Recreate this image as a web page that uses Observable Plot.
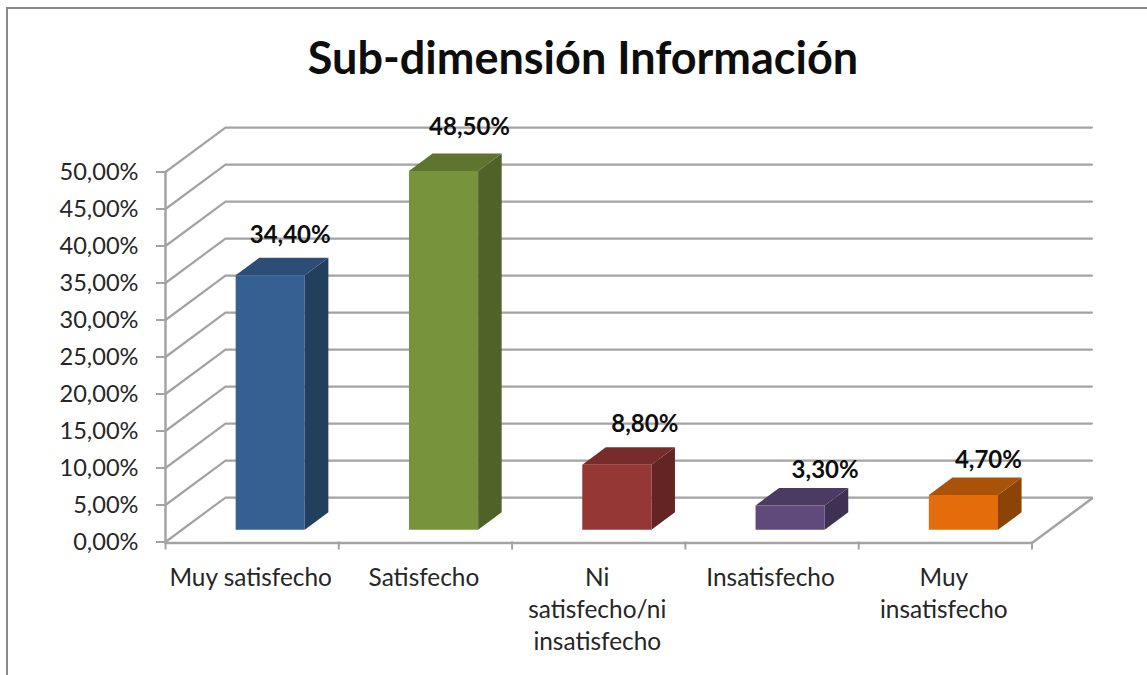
<!DOCTYPE html>
<html lang="es">
<head>
<meta charset="utf-8">
<script src="https://cdn.jsdelivr.net/npm/d3@7"></script>
<script src="https://cdn.jsdelivr.net/npm/@observablehq/plot@0.6"></script>
<style>
html,body{margin:0;padding:0;background:#fff;overflow:hidden}
#chart{position:relative;width:1147px;height:675px}
#frame{position:absolute;left:6px;top:7px;right:0;bottom:0;border-left:2px solid #8a8a8a;border-top:2px solid #8a8a8a}
#chart svg{position:absolute;left:0;top:0}
</style>
</head>
<body>
<div id="chart"><div id="frame"></div></div>
<script>
const title = "Sub-dimensión Información";
const categories = ["Muy satisfecho", "Satisfecho", "Ni\nsatisfecho/ni\ninsatisfecho", "Insatisfecho", "Muy\ninsatisfecho"];
const values = [34.4, 48.5, 8.8, 3.3, 4.7];
const valueLabels = ["34,40%", "48,50%", "8,80%", "3,30%", "4,70%"];
const yTicks = [0, 5, 10, 15, 20, 25, 30, 35, 40, 45, 50];
const frontColors = ["#376092", "#77933c", "#953735", "#604a7b", "#e46c0a"];
const sideColors = ["#233f5e", "#4f6228", "#632423", "#3f3151", "#8a4506"];
const topColors = ["#2c4d76", "#5e7530", "#772c2a", "#4b3a62", "#a9530a"];

// Oblique projection of the 3D box, in scale units
const depthX = 0.346, depthY = 6.01;
const px = (c, d) => c + d * depthX;
const py = (v, d) => v + d * depthY;
const barL = 0.31, barR = 0.709, d0 = 0.274, d1 = 0.667;

const poly = (key, color, pts) => pts.map(([c, v, d]) => ({key, color, x: px(c, d), y: py(v, d)}));
const faces = values.flatMap((v, i) => {
  const l = i + barL, r = i + barR;
  return [
    ...poly(`s${i}`, sideColors[i], [[r, 0, d0], [r, 0, d1], [r, v, d1], [r, v, d0]]),
    ...poly(`t${i}`, topColors[i], [[l, v, d0], [r, v, d0], [r, v, d1], [l, v, d1]]),
    ...poly(`f${i}`, frontColors[i], [[l, 0, d0], [r, 0, d0], [r, v, d0], [l, v, d0]])
  ];
});

const gridPts = yTicks.flatMap(v => [
  {key: v, x: px(0, 0), y: py(v, 0)},
  {key: v, x: px(0, 1), y: py(v, 1)},
  {key: v, x: px(5, 1), y: py(v, 1)}
]);
const floorPts = [
  {x: px(0, 0), y: py(0, 0)},
  {x: px(5, 0), y: py(0, 0)},
  {x: px(5, 1), y: py(0, 1)}
];
const wallPts = [{x: 0, y: 0}, {x: 0, y: 50}];

const gray = "#a3a3a3";
const ink = "#262626";
const font = "Lato, Carlito, sans-serif";
const labelNudge = [[20, -22], [26, -26], [28, -23], [35, -18], [25, -17]];

const plot = Plot.plot({
  width: 1147, height: 675,
  marginLeft: 165, marginRight: 115.5, marginTop: 171.5, marginBottom: 133.5,
  style: {background: "transparent", fontFamily: font, color: ink, overflow: "visible"},
  x: {type: "linear", domain: [0, 5], axis: null},
  y: {type: "linear", domain: [0, 50], axis: null},
  color: {type: "identity"},
  marks: [
    Plot.line(gridPts, {x: "x", y: "y", z: "key", stroke: gray, strokeWidth: 2.2}),
    Plot.line(floorPts, {x: "x", y: "y", stroke: gray, strokeWidth: 2.5, dy: 1}),
    Plot.line(wallPts, {x: "x", y: "y", stroke: gray, strokeWidth: 2.5}),
    Plot.axisY({ticks: yTicks, tickSize: 9, tickPadding: 18, stroke: gray, strokeWidth: 2, fontSize: 23.6,
      tickFormat: d => d3.format(".2f")(d).replace(".", ",") + "%", label: null}),
    Plot.axisX({ticks: [0, 1, 2, 3, 4, 5], tickSize: 8, stroke: gray, strokeWidth: 2, tickFormat: () => "", label: null}),
    Plot.line(faces, {x: "x", y: "y", z: "key", fill: "color", stroke: "none", curve: "linear-closed"}),
    Plot.text(categories, {x: (d, i) => i + 0.5, y: () => 0, text: d => d, dx: -1.5, dy: 21, lineAnchor: "top",
      fontSize: 24.4, lineHeight: 1.31, fill: ink}),
    ...values.map((v, i) => Plot.text([v], {
      x: () => i + (barL + barR) / 2 + d0 * depthX,
      y: () => py(v, d1),
      text: () => valueLabels[i],
      dx: labelNudge[i][0], dy: labelNudge[i][1],
      fontSize: 24, fontWeight: 700, fill: "#0d0d0d"
    })),
    Plot.text([title], {frameAnchor: "top-left", text: d => d, dx: 417.5, dy: -112, textAnchor: "middle",
      fontSize: 45, fontWeight: 700, fill: "#0d0d0d", lineAnchor: "middle"})
  ]
});
document.getElementById("chart").appendChild(plot);
</script>
</body>
</html>
